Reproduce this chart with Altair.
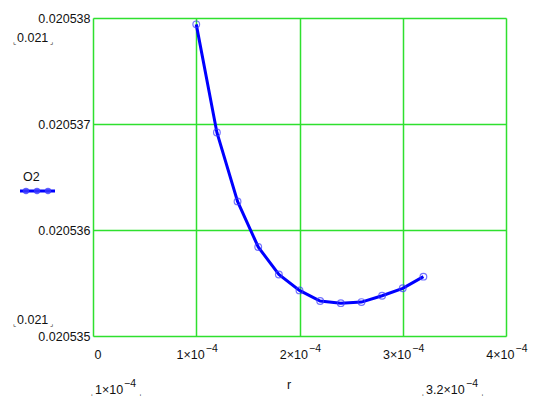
import altair as alt
import pandas as pd

r_vals = [1.0e-4, 1.2e-4, 1.4e-4, 1.6e-4, 1.8e-4, 2.0e-4, 2.2e-4, 2.4e-4, 2.6e-4, 2.8e-4, 3.0e-4, 3.2e-4]
o2_vals = [0.02053794, 0.02053692, 0.02053627, 0.02053584, 0.02053558, 0.02053543,
           0.02053533, 0.02053531, 0.02053532, 0.02053538, 0.02053545, 0.02053556]
x_ticks = [0, 1e-4, 2e-4, 3e-4, 4e-4]
y_ticks = [0.020535, 0.020536, 0.020537, 0.020538]

df = pd.DataFrame({"r": r_vals, "O2": o2_vals})

FONT = "Liberation Sans"
FS = 12.5
SFS = 10.5
W, H = 413, 318

xscale = alt.Scale(domain=[0, 4e-4], nice=False, zero=False)
x_enc = alt.X("r:Q", scale=xscale,
              axis=alt.Axis(values=x_ticks, title=None, ticks=False, domain=False,
                            grid=True, gridColor="#2ee02e", gridWidth=1.5,
                            labelExpr="datum.value == 0 ? '0' : round(datum.value*1e4) + '×10'",
                            labelFont=FONT, labelFontSize=FS, labelColor="#111",
                            labelAlign="right", labelOffset=8,
                            labelPadding=12, labelFlush=False, labelOverlap=False))
x_sup = alt.X("r:Q", scale=xscale,
              axis=alt.Axis(values=x_ticks, title=None, ticks=False, domain=False, grid=False,
                            orient="bottom", offset=0,
                            labelExpr="datum.value == 0 ? '' : '−4'",
                            labelFont=FONT, labelFontSize=SFS, labelColor="#111",
                            labelAlign="left", labelOffset=9,
                            labelPadding=7, labelFlush=False, labelOverlap=False))
y_enc = alt.Y("O2:Q", scale=alt.Scale(domain=[0.020535, 0.020538], nice=False, zero=False),
              axis=alt.Axis(values=y_ticks, title=None, ticks=False, domain=False,
                            grid=True, gridColor="#2ee02e", gridWidth=1.5,
                            format=".6f", labelFont=FONT, labelFontSize=FS, labelColor="#111",
                            labelPadding=3, labelFlush=False, labelOverlap=False))

base = alt.Chart(df)
line = base.mark_line(color="#0000ff", strokeWidth=3).encode(x=x_enc, y=y_enc)
pts = base.mark_point(shape="circle", filled=False, color="#3a3aff", size=45, strokeWidth=1.2).encode(
    x=x_sup, y="O2:Q")

one = pd.DataFrame({"a": [0]})

def txt(t, px, py, al="left", fs=FS):
    return alt.Chart(one).mark_text(text=t, align=al, baseline="middle", font=FONT,
                                    fontSize=fs, color="#111").encode(
        x=alt.value(px), y=alt.value(py))

# Mathcad placeholder-style labels: (text, superscript, left x, main text width, y)
ann = [("0.021", "", -76, 31, 20), ("0.021", "", -76, 31, 302),
       ("1×10", "−4", 2, 28, 372), ("3.2×10", "−4", 333, 39, 372)]
layers = []
for t, s, x0, w, y in ann:
    layers.append(txt(t, x0, y))
    right = x0 + w
    if s:
        layers.append(txt(s, right + 1, y - 6, "left", SFS))
        right += 13
    layers.append(txt("⌞", x0 - 4, y + 4, "left", 7))
    layers.append(txt("⌟", right + 5, y + 4, "right", 7))
layers.append(txt("r", 196, 367, "center"))

leg_title = txt("O2", -70, 159)
leg_line = alt.Chart(one).mark_rule(color="#0000ff", strokeWidth=3).encode(
    x=alt.value(-73), x2=alt.value(-38), y=alt.value(173))
leg_pts = [alt.Chart(one).mark_point(shape="circle", filled=True, color="#3a3aff",
                                     size=40, opacity=0.8).encode(x=alt.value(px), y=alt.value(173))
           for px in (-67, -56, -45)]

chart = alt.layer(line, pts, leg_line, *leg_pts, leg_title, *layers).resolve_axis(x="independent").properties(
    width=W, height=H,
    autosize=alt.AutoSizeParams(type="none"),
    padding={"left": 85, "top": 10, "right": 30, "bottom": 60},
).configure_view(stroke="#555555", strokeWidth=1.5).configure(background="white")

chart.save("out.html", embed_options={"renderer": "svg", "actions": False})
